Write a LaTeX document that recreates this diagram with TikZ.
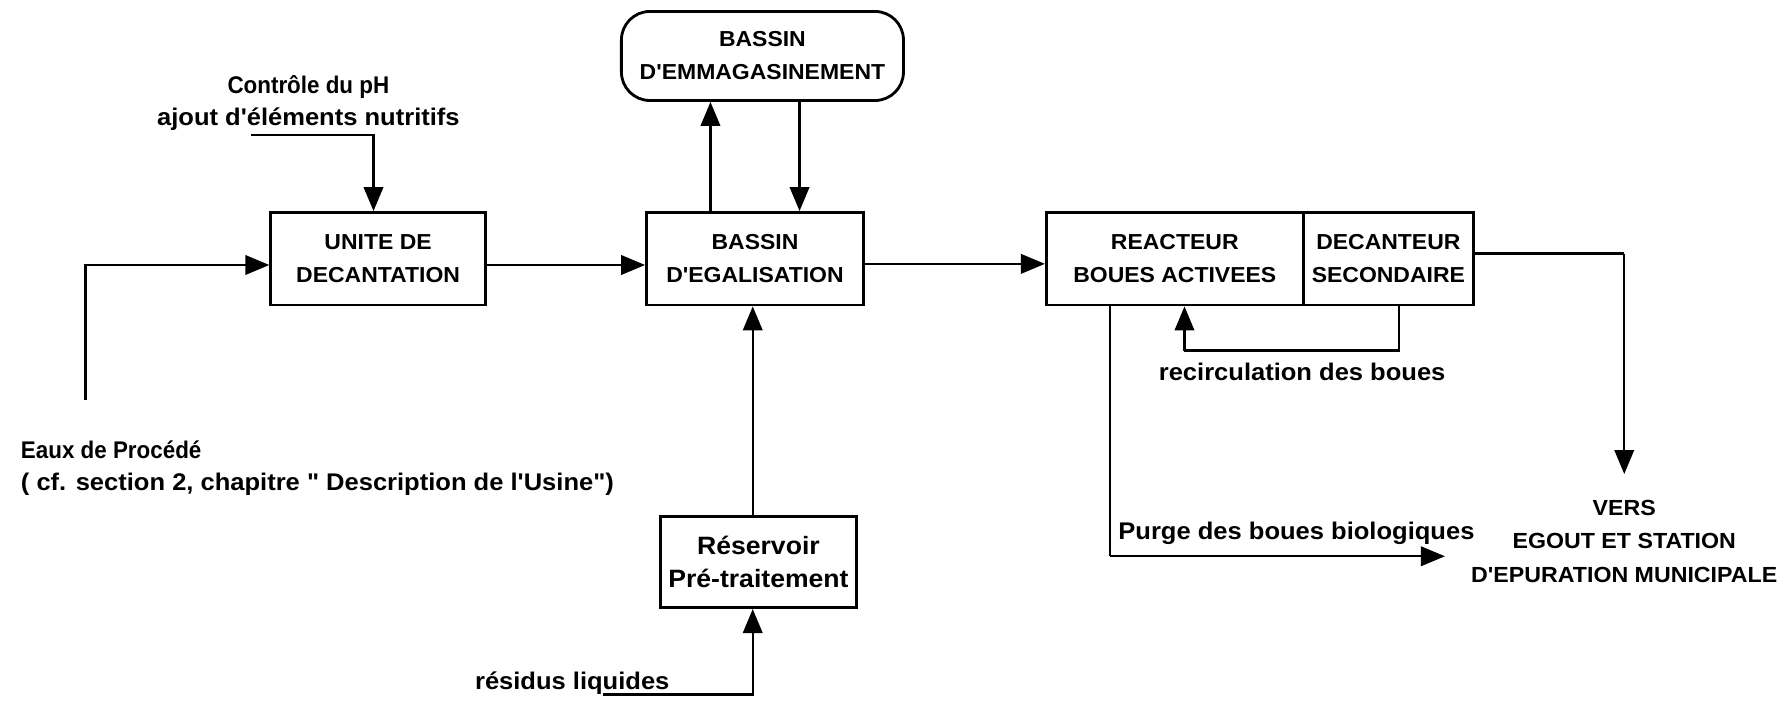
\documentclass[tikz,border=0pt]{standalone}
\usepackage{fontspec}
\setmainfont{Liberation Sans}
\newfontfamily\capsfont{Liberation Sans Bold}[FakeStretch=1.06]
\newfontfamily\lowerfont{Liberation Sans Bold}[FakeStretch=1.06]
\newfontfamily\narrowfont{Liberation Sans Bold}[FakeStretch=0.93]
\usetikzlibrary{arrows.meta}
\begin{document}
\begin{tikzpicture}[x=0.02cm,y=-0.02cm,
  box/.style={draw,line width=1.4pt,inner sep=0pt,align=center,font=\capsfont\fontsize{10.8}{16.5}\selectfont},
  lbl/.style={inner sep=0pt,align=center,font=\lowerfont\fontsize{12}{16}\selectfont},
  flow/.style={line width=1.2pt,-{Triangle[length=0.42cm,width=0.34cm]}},
  wire/.style={line width=1.2pt}]
\useasboundingbox (0,0) rectangle (1568,613);

% process units
\node[box,minimum width=3.76cm,minimum height=1.62cm] (unite) at (331,226.5) {UNITE DE\\DECANTATION};
\node[box,minimum width=3.8cm,minimum height=1.62cm] (egal) at (661,226.5) {BASSIN\\D'EGALISATION};
\node[box,rounded corners=0.5cm,minimum width=4.94cm,minimum height=1.56cm] (emmag) at (667.5,49) {BASSIN\\D'EMMAGASINEMENT};
\node[box,minimum width=3.44cm,minimum height=1.6cm,font=\lowerfont\fontsize{12.5}{16.5}\selectfont] (reserv) at (664,492) {Réservoir\\Pré-traitement};
\node[box,minimum width=4.5cm,minimum height=1.62cm] (reac) at (1028.5,226.5) {REACTEUR\\BOUES ACTIVEES};
\node[box,minimum width=2.98cm,minimum height=1.62cm] (decant) at (1215.5,226.5) {DECANTEUR\\SECONDAIRE};

% labels
\node[lbl] (ctrl) at (270,90) {{\narrowfont Contrôle du pH}\\ajout d'éléments nutritifs};
\node[lbl,align=left,anchor=west] (eaux) at (18,410) {{\narrowfont Eaux de Procédé}\\( cf. section 2, chapitre " Description de l'Usine")};
\node[lbl] (resid) at (501,598) {résidus liquides};
\node[lbl] (recirc) at (1140,326) {recirculation des boues};
\node[lbl] (purge) at (1135,467) {Purge des boues biologiques};
\node[lbl,font=\capsfont\fontsize{10.9}{16.6}\selectfont] (vers) at (1422,474) {VERS\\EGOUT ET STATION\\D'EPURATION MUNICIPALE};

% connector end points
\coordinate (c1) at (220,118);
\coordinate (c2) at (327,118);
\coordinate (in0) at (75,350);
\coordinate (in1) at (75,232);
\coordinate (r0) at (528,608);
\coordinate (r1) at (659,608);
\coordinate (o1) at (1422,222);
\coordinate (o2) at (1422,415);
\coordinate (q1) at (1225,307);
\coordinate (q2) at (1037,307);
\coordinate (p1) at (972,487);
\coordinate (p2) at (1265,487);

% flows
\draw[flow] (c1) -- (c2) -- (c2 |- unite.north);
\draw[flow] (in0) -- (in1) -- (in1 -| unite.west);
\draw[flow] (unite.east |- in1) -- (in1 -| egal.west);
\draw[flow] (egal.east |- 0,231) -- (reac.west |- 0,231);
\draw[flow] (egal.north -| 622,0) -- (emmag.south -| 622,0);
\draw[flow] (emmag.south -| 700,0) -- (egal.north -| 700,0);
\draw[flow] (reserv.north -| 659,0) -- (egal.south -| 659,0);
\draw[flow] (r0) -- (r1) -- (r1 |- reserv.south);
\draw[wire] (decant.east |- o1) -- (o1);
\draw[flow] (o1) -- (o2);
\draw[wire] (decant.south -| q1) -- (q1) -- (q2);
\draw[flow] (q2) -- (q2 |- reac.south);
\draw[wire] (reac.south -| p1) -- (p1);
\draw[flow] (p1) -- (p2);
\end{tikzpicture}
\end{document}
